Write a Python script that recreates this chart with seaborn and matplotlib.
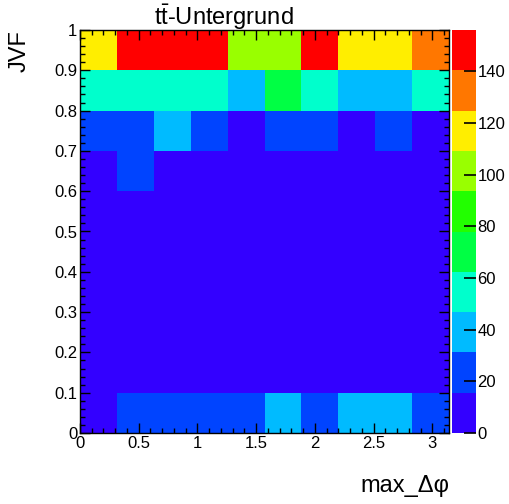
import numpy as np
import pandas as pd
import seaborn as sb
import matplotlib.pyplot as plt
from matplotlib.colors import ListedColormap
from matplotlib.ticker import FixedLocator

sb.set_style('white')
plt.rcParams['font.family'] = ['Liberation Sans', 'DejaVu Sans']
plt.rcParams['mathtext.fontset'] = 'custom'
plt.rcParams['mathtext.rm'] = 'Liberation Sans'
plt.rcParams['text.color'] = 'black'
plt.rcParams['axes.labelcolor'] = 'black'
plt.rcParams['xtick.color'] = 'black'
plt.rcParams['ytick.color'] = 'black'
plt.rcParams['axes.axisbelow'] = False

# bin edges: 10 bins in max_dphi (0..pi), 10 bins in JVF (0..1)
x_bins = np.linspace(0, np.pi, 11)
y_bins = np.linspace(0, 1, 11)

# counts per JVF bin (rows from JVF=0 upwards), 10 dphi bins each
row_00 = [9, 24, 26, 22, 20, 34, 25, 38, 35, 21]
row_01 = [4, 5, 4, 3, 4, 5, 3, 4, 5, 4]
row_02 = [3, 4, 3, 3, 2, 3, 4, 3, 3, 2]
row_03 = [3, 3, 4, 2, 3, 3, 2, 3, 2, 3]
row_04 = [4, 3, 3, 4, 3, 2, 3, 4, 3, 3]
row_05 = [5, 6, 4, 5, 4, 5, 6, 5, 4, 5]
row_06 = [8, 17, 6, 5, 7, 6, 5, 4, 6, 5]
row_07 = [22, 20, 36, 18, 12, 20, 17, 11, 19, 10]
row_08 = [55, 58, 56, 54, 40, 70, 52, 42, 44, 50]
row_09 = [118, 150, 156, 148, 102, 98, 145, 120, 116, 132]

palette = ['#3300ff', '#0044ff', '#00bbff', '#00ffcc', '#00ff44',
           '#22ff00', '#99ff00', '#ffee00', '#ff7700', '#ff0000']
cbar_ticks = [0, 20, 40, 60, 80, 100, 120, 140]

counts = pd.DataFrame([row_00, row_01, row_02, row_03, row_04,
                       row_05, row_06, row_07, row_08, row_09])

fig = plt.figure(figsize=(5.1, 5.04), dpi=100)
ax = fig.add_axes([80/510, 71/504, 369/510, 403/504])
cax = fig.add_axes([452/510, 71/504, 24/510, 403/504])

sb.heatmap(counts, ax=ax, cbar_ax=cax, cmap=ListedColormap(palette),
           vmin=0, vmax=counts.values.max(), xticklabels=False, yticklabels=False)
ax.set_ylim(0, 10)
ax.set_axisbelow(False)
cax.set_axisbelow(False)

# map physical values onto bin index coordinates
dx = x_bins[1] - x_bins[0]
dy = y_bins[1] - y_bins[0]
xmaj = np.arange(0, 3.01, 0.5)
ymaj = np.arange(0, 1.001, 0.1)
ax.xaxis.set_major_locator(FixedLocator(xmaj / dx))
ax.xaxis.set_minor_locator(FixedLocator(np.arange(0, np.pi, 0.1) / dx))
ax.yaxis.set_major_locator(FixedLocator(ymaj / dy))
ax.yaxis.set_minor_locator(FixedLocator(np.arange(0, 1.001, 0.02) / dy))
ax.set_xticklabels(['0', '0.5', '1', '1.5', '2', '2.5', '3'])
ax.set_yticklabels(['0'] + ['%.1f' % v for v in ymaj[1:-1]] + ['1'])

for s in ax.spines.values():
    s.set_visible(True)
    s.set_color('black')
    s.set_linewidth(1.0)
    s.set_zorder(5)
ax.tick_params(which='both', direction='in', top=True, right=True,
               bottom=True, left=True, color='black', width=1.0, labelsize=12)
ax.tick_params(which='major', length=7, pad=2)
ax.tick_params(which='minor', length=3.5)

ax.set_xlabel('max_Δφ', fontsize=17)
ax.xaxis.set_label_coords(1.0, -0.105)
ax.xaxis.label.set_ha('right')
ax.set_ylabel('JVF', fontsize=17)
ax.yaxis.set_label_coords(-0.135, 1.0)
ax.yaxis.label.set_ha('right')

cbar = ax.collections[0].colorbar
cbar.outline.set_visible(False)
cbar.solids.set_zorder(0)
cbar.set_ticks(cbar_ticks)
cax.yaxis.set_ticks_position('right')
cax.yaxis.set_tick_params(which='major', direction='in', length=9, width=1.2,
                          color='black', labelsize=12, pad=1, right=True)
cax.yaxis.set_minor_locator(FixedLocator([]))
cax.yaxis.set_zorder(3)

fig.text(224/510, 1 - 25/504, r'$\mathrm{t\bar{t}}$-Untergrund',
         fontsize=17, ha='center', va='baseline')

plt.savefig('out.png', dpi=100)
